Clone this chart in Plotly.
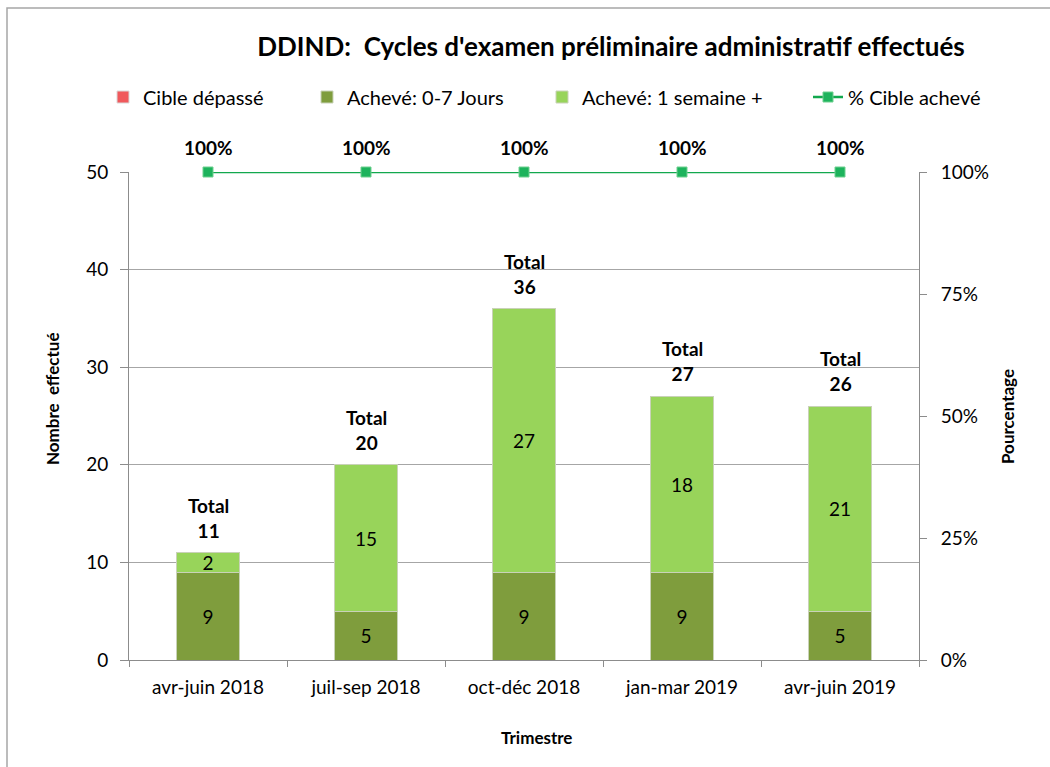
import plotly.graph_objects as go

quarters = ["avr-juin 2018", "juil-sep 2018", "oct-déc 2018", "jan-mar 2019", "avr-juin 2019"]
over_target = [0, 0, 0, 0, 0]
done_0_7 = [9, 5, 9, 9, 5]
done_1w = [2, 15, 27, 18, 21]
totals = [11, 20, 36, 27, 26]
pct_done = [100, 100, 100, 100, 100]

FONT = "Lato"

# plot area in pixels (used to place frame/legend in paper units)
L, R, T, B = 129, 919, 172, 660
W, H = 1050, 767


def px_x(px):
    return (px - L) / (R - L)


def px_y(py):
    return (B - py) / (B - T)


fig = go.Figure()

fig.add_trace(go.Bar(
    x=quarters, y=over_target, name="Cible dépassé", legend="legend",
    marker=dict(color="#f0595c", line=dict(color="#d9d9d9", width=1)),
    hoverinfo="skip",
))
fig.add_trace(go.Bar(
    x=quarters, y=done_0_7, name="Achevé: 0-7 Jours", legend="legend2",
    marker=dict(color="#7f9d3d", line=dict(color="#c9d2b8", width=1)),
    text=[str(v) for v in done_0_7], textposition="inside", textangle=0,
    insidetextanchor="middle", textfont=dict(size=19, color="black", family=FONT),
))
fig.add_trace(go.Bar(
    x=quarters, y=done_1w, name="Achevé: 1 semaine +", legend="legend3",
    marker=dict(color="#98d45a", line=dict(color="#c9d2b8", width=1)),
    text=[str(v) for v in done_1w], textposition="inside", textangle=0,
    insidetextanchor="middle", textfont=dict(size=19, color="black", family=FONT),
))
fig.add_trace(go.Scatter(
    x=quarters, y=pct_done, name="% Cible achevé", yaxis="y2", legend="legend4",
    mode="lines+markers", cliponaxis=False,
    line=dict(color="#12a84e", width=2.5),
    marker=dict(symbol="square", size=10, color="#1db35c", line=dict(color="#6fd08f", width=1)),
))

# totals above each stack
for q, t in zip(quarters, totals):
    fig.add_annotation(
        x=q, y=t, text=f"<b>Total</b><br><b>{t}</b>", showarrow=False,
        yanchor="bottom", yshift=9, font=dict(size=19, color="black", family=FONT),
        align="center",
    )

# percentage labels above the line
for q, p in zip(quarters, pct_done):
    fig.add_annotation(
        x=q, y=p, yref="y2", text=f"<b>{p}%</b>", showarrow=False,
        yanchor="bottom", yshift=11, font=dict(size=19, color="black", family=FONT),
    )

# axis titles
fig.add_annotation(
    xref="paper", yref="paper", x=px_x(52), y=px_y(399), text="<b>Nombre  effectué</b>",
    xanchor="center", yanchor="middle",
    textangle=-90, showarrow=False, font=dict(size=17, family=FONT, color="black"),
)
fig.add_annotation(
    xref="paper", yref="paper", x=px_x(1007), y=px_y(416), text="<b>Pourcentage</b>",
    xanchor="center", yanchor="middle",
    textangle=-90, showarrow=False, font=dict(size=17, family=FONT, color="black"),
)
fig.add_annotation(
    xref="paper", yref="paper", x=px_x(536), y=px_y(737), text="<b>Trimestre</b>",
    xanchor="center", yanchor="middle",
    showarrow=False, font=dict(size=17, family=FONT, color="black"),
)

# outer chart frame
fig.add_shape(
    type="rect", xref="paper", yref="paper",
    x0=px_x(7), x1=px_x(1090), y0=px_y(8), y1=px_y(800),
    line=dict(color="#a6a6a6", width=1.5), layer="below",
)


def legend_at(px):
    return dict(
        orientation="h", x=px_x(px), xanchor="left", y=px_y(97), yanchor="middle",
        font=dict(size=20, family=FONT, color="black"), itemwidth=30,
        bgcolor="rgba(0,0,0,0)",
    )


fig.update_layout(
    width=W, height=H,
    margin=dict(l=L, r=W - R, t=T, b=H - B, pad=0),
    paper_bgcolor="white", plot_bgcolor="white",
    barmode="stack", bargap=0.6,
    font=dict(family=FONT, size=19, color="black"),
    uniformtext=dict(minsize=19, mode="show"),
    title=dict(
        text="<b>DDIND:  Cycles d'examen préliminaire administratif effectués</b>",
        x=611 / W, xanchor="center",
        y=1 - 47 / H, yanchor="middle",
        font=dict(size=26, family=FONT, color="black"),
    ),
    legend=legend_at(103),
    legend2=legend_at(307),
    legend3=legend_at(542),
    legend4=legend_at(808),
    showlegend=True,
    xaxis=dict(
        showline=True, linecolor="#8c8c8c", linewidth=1,
        ticks="outside", tickson="boundaries", ticklen=6, tickcolor="#8c8c8c",
        tickfont=dict(size=19), ticklabelstandoff=10,
    ),
    yaxis=dict(
        range=[0, 50], dtick=10,
        showgrid=True, gridcolor="#a6a6a6", gridwidth=1,
        showline=True, linecolor="#8c8c8c", linewidth=1,
        ticks="outside", ticklen=8, tickcolor="#8c8c8c",
        tickfont=dict(size=19), zeroline=False, ticklabelstandoff=8,
    ),
    yaxis2=dict(
        overlaying="y", side="right", range=[0, 100], dtick=25, ticksuffix="%",
        showgrid=False, showline=True, linecolor="#8c8c8c", linewidth=1,
        ticks="outside", ticklen=7, tickcolor="#8c8c8c",
        tickfont=dict(size=19), zeroline=False, ticklabelstandoff=10,
    ),
)

fig.write_html("out.html")
